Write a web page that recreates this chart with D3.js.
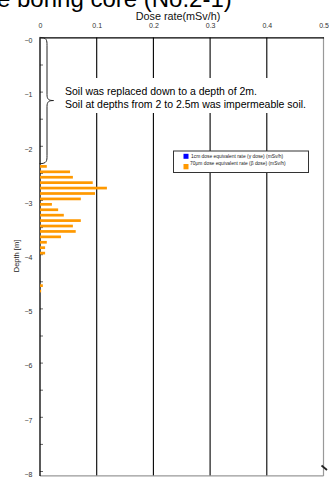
<!DOCTYPE html>
<html>
<head>
<meta charset="utf-8">
<script src="https://cdn.jsdelivr.net/npm/d3@7"></script>
<style>
  html, body { margin: 0; padding: 0; background: #fff; }
  svg { display: block; font-family: "Liberation Sans", Arial, sans-serif; }
</style>
</head>
<body>
<svg id="chart" width="329" height="477"></svg>
<script>
// ---- data ----
const titleText = "e boring core (No.2-1)";
const xAxisTitle = "Dose rate(mSv/h)";
const yAxisTitle = "Depth [m]";
const xTicks = [0, 0.1, 0.2, 0.3, 0.4, 0.5];
const xTickLabels = ["0", "0.1", "0.2", "0.3", "0.4", "0.5"];
const yTicks = [0, 1, 2, 3, 4, 5, 6, 7, 8];
const yMinorTicks = [0.5, 1.5, 2.5, 3.5, 4.5, 5.5, 6.5, 7.5];
// depth (m, centre of each measured slice) and beta dose rate values (mSv/h)
const betaDepths = [2.38, 2.48, 2.58, 2.68, 2.78, 2.88, 2.98, 3.08, 3.18, 3.28,
                    3.38, 3.48, 3.58, 3.68, 3.78, 3.88, 3.98, 4.58, 4.68];
const betaValues = [0.012, 0.053, 0.058, 0.093, 0.118, 0.097, 0.072, 0.021, 0.032, 0.042,
                    0.072, 0.058, 0.063, 0.037, 0.012, 0.009, 0.009, 0.005, 0.002];
const gammaDepths = [];
const gammaValues = [];
const legendLabels = ["1cm dose equivalent rate (\u03b3 dose) (mSv/h)",
                      "70\u03bcm dose equivalent rate (\u03b2 dose) (mSv/h)"];
const noteLines = ["Soil was replaced down to a depth of 2m.",
                   "Soil at depths from 2 to 2.5m was impermeable soil."];
const braceRange = [0, 2.33];

// ---- layout ----
const svg = d3.select("#chart");
const x = d3.scaleLinear().domain([0, 0.5]).range([40, 323.5]);
const y = d3.scaleLinear().domain([0, 8]).range([37.4, 471]);
const yBottom = 8.09;
const barThick = 0.05;
const colors = { gamma: "#0000ff", beta: "#ff9900" };

// title (cut off at the top/left, as in the original)
svg.append("text").attr("x", -3).attr("y", 6.5)
  .attr("font-size", 24).attr("fill", "#000").text(titleText);

// x axis title
svg.append("text").attr("x", 178).attr("y", 19.5)
  .attr("text-anchor", "middle").attr("font-size", 10.8).attr("fill", "#111")
  .text(xAxisTitle);

// grid lines
svg.append("g").selectAll("line").data(xTicks.slice(1, -1)).join("line")
  .attr("x1", d => x(d)).attr("x2", d => x(d))
  .attr("y1", y(0)).attr("y2", y(yBottom))
  .attr("stroke", "#000").attr("stroke-width", 1.1);

// right + bottom border (grey)
svg.append("line").attr("x1", x(0.5)).attr("x2", x(0.5))
  .attr("y1", y(0)).attr("y2", y(yBottom)).attr("stroke", "#999").attr("stroke-width", 1.2);
svg.append("line").attr("x1", x(0)).attr("x2", x(0.5))
  .attr("y1", y(yBottom)).attr("y2", y(yBottom)).attr("stroke", "#999").attr("stroke-width", 1.2);

// top axis
const topAxis = d3.axisTop(x).tickValues(xTicks).tickSize(0).tickPadding(9)
  .tickFormat((d, i) => xTickLabels[i]);
const gTop = svg.append("g").attr("transform", `translate(0,${y(0)})`).call(topAxis);
gTop.select(".domain").attr("stroke", "#000").attr("stroke-width", 1.2);
gTop.selectAll("text").attr("font-size", 7).attr("fill", "#333")
  .attr("font-family", "Liberation Sans, Arial, sans-serif");

// left axis (ticks pointing inward)
const leftAxis = d3.axisLeft(y).tickValues(yTicks.concat(yMinorTicks))
  .tickSizeInner(-3).tickSizeOuter(0).tickPadding(7.5)
  .tickFormat(d => Number.isInteger(d) ? "\u2212" + d : "");
const gLeft = svg.append("g").attr("transform", `translate(${x(0)},0)`).call(leftAxis);
gLeft.select(".domain").remove();
gLeft.selectAll(".tick line").attr("stroke", "#666").attr("stroke-width", 1);
gLeft.selectAll("text").attr("font-size", 7).attr("fill", "#333").attr("dy", "0.75em")
  .attr("font-family", "Liberation Sans, Arial, sans-serif");
svg.append("line").attr("x1", x(0)).attr("x2", x(0))
  .attr("y1", y(0)).attr("y2", y(yBottom)).attr("stroke", "#000").attr("stroke-width", 1.3);

// y axis title
svg.append("text").attr("transform", `translate(18.5,${256}) rotate(-90)`)
  .attr("text-anchor", "middle").attr("font-size", 7.5).attr("fill", "#222")
  .text(yAxisTitle);

// bars
svg.append("g").selectAll("rect").data(betaDepths).join("rect")
  .attr("x", x(0))
  .attr("y", d => y(d - barThick / 2))
  .attr("width", (d, i) => x(betaValues[i]) - x(0))
  .attr("height", y(barThick) - y(0))
  .attr("fill", colors.beta);
svg.append("g").selectAll("rect").data(gammaDepths).join("rect")
  .attr("x", x(0))
  .attr("y", d => y(d - barThick / 2))
  .attr("width", (d, i) => x(gammaValues[i]) - x(0))
  .attr("height", y(barThick) - y(0))
  .attr("fill", colors.gamma);

// annotation box
svg.append("rect").attr("x", 60).attr("y", 78).attr("width", 261).attr("height", 35)
  .attr("fill", "#fff");
svg.append("g").selectAll("text").data(noteLines).join("text")
  .attr("x", 65).attr("y", (d, i) => 95 + i * 13)
  .attr("font-size", 10.5).attr("fill", "#000").text(d => d);

// brace
const bt = y(braceRange[0]), bb = y(braceRange[1]), bm = (bt + bb) / 2;
const bx0 = x(0) - 0.5, bx1 = 47, bx2 = 53.5;
svg.append("path")
  .attr("d", `M${bx0},${bt} C${bx1},${bt} ${bx1},${bt + 3} ${bx1},${bt + 8}
              L${bx1},${bm - 6} C${bx1},${bm - 1} ${bx1 + 2},${bm} ${bx2},${bm}
              C${bx1 + 2},${bm} ${bx1},${bm + 1} ${bx1},${bm + 6}
              L${bx1},${bb - 8} C${bx1},${bb - 3} ${bx1},${bb} ${bx0},${bb}`)
  .attr("fill", "none").attr("stroke", "#222").attr("stroke-width", 1);

// legend
const lg = svg.append("g").attr("transform", "translate(173.5,151)");
lg.append("rect").attr("width", 135).attr("height", 21.5)
  .attr("fill", "#fff").attr("stroke", "#333").attr("stroke-width", 1);
lg.append("rect").attr("x", 10).attr("y", 2.8).attr("width", 5).attr("height", 5).attr("fill", colors.gamma);
lg.append("rect").attr("x", 10).attr("y", 13).attr("width", 5).attr("height", 5.3).attr("fill", colors.beta);
lg.append("text").attr("x", 17.5).attr("y", 7.2).attr("font-size", 4.9).attr("fill", "#222").text(legendLabels[0]);
lg.append("text").attr("x", 16.5).attr("y", 14).attr("font-size", 4.9).attr("fill", "#222").text(legendLabels[1]);

// small mark bottom-right
svg.append("line").attr("x1", 321.5).attr("y1", 465.5).attr("x2", 327).attr("y2", 470)
  .attr("stroke", "#222").attr("stroke-width", 1.8);
</script>
</body>
</html>
